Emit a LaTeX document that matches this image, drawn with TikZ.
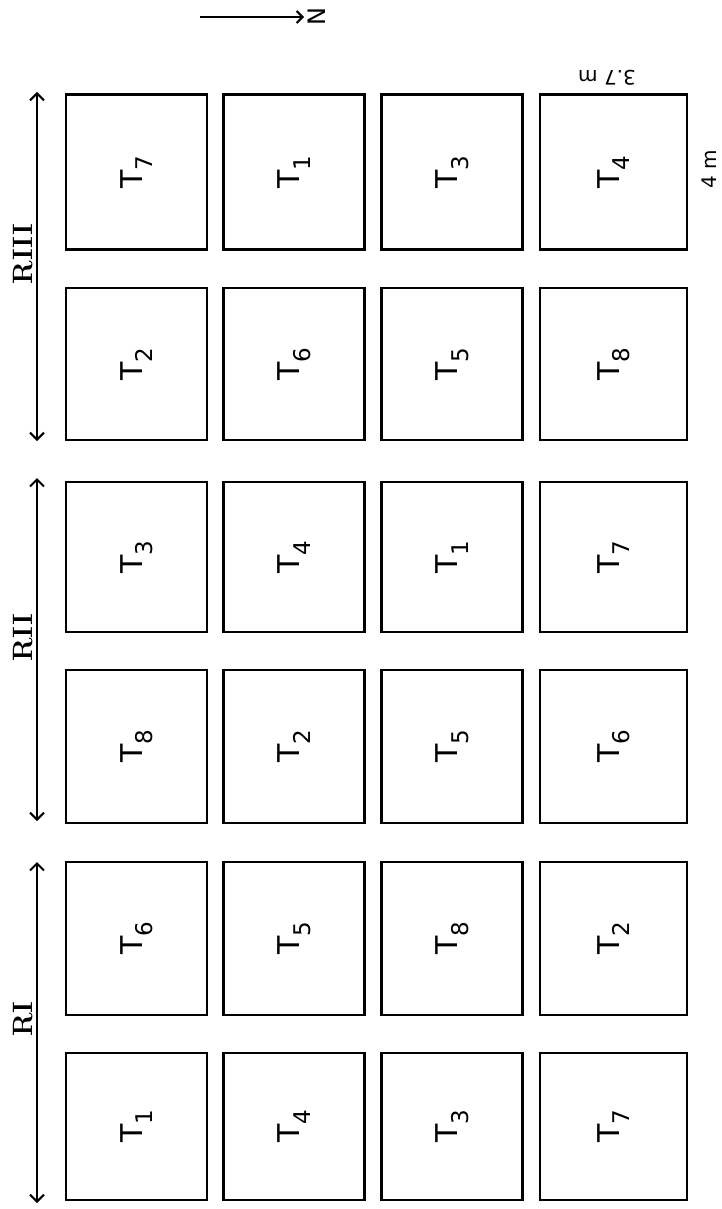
\documentclass[tikz,border=0pt]{standalone}
\usepackage{fontspec}
\setsansfont{DejaVu Sans}
\usetikzlibrary{arrows.meta}
\begin{document}
\begin{tikzpicture}[x=1pt,y=-1pt,
  plotbox/.style={draw, line width=2.4pt, minimum width=141pt, minimum height=155pt, inner sep=0pt,
    font=\sffamily\fontsize{30}{34}\selectfont},
  reparrow/.style={line width=2pt, {Straight Barb[length=7pt,width=14pt,line width=2pt]}-{Straight Barb[length=7pt,width=14pt,line width=2pt]}},
  replabel/.style={rotate=90, font=\rmfamily\bfseries\fontsize{28}{32}\selectfont, inner sep=0pt},
  dimlabel/.style={font=\sffamily\fontsize{20}{24}\selectfont, inner sep=0pt}]
\useasboundingbox (0,0) rectangle (722,1209);
% plots: columns x = 136.5, 294, 452, 613.5 ; rows y
\newcommand{\tr}[1]{\rotatebox{90}{T\raisebox{-0.35em}{\fontsize{23}{26}\selectfont #1}}}
\node[plotbox] (p11) at (136.5,172) {\tr{7}};
\node[plotbox] (p12) at (294,172)   {\tr{1}};
\node[plotbox] (p13) at (452,172)   {\tr{3}};
\node[plotbox, minimum width=147pt] (p14) at (613.5,172) {\tr{4}};
\node[plotbox, minimum height=152pt] (p21) at (136.5,364) {\tr{2}};
\node[plotbox, minimum height=152pt] (p22) at (294,364)   {\tr{6}};
\node[plotbox, minimum height=152pt] (p23) at (452,364)   {\tr{5}};
\node[plotbox, minimum height=152pt, minimum width=147pt] (p24) at (613.5,364) {\tr{8}};
\node[plotbox, minimum height=150pt] (p31) at (136.5,557) {\tr{3}};
\node[plotbox, minimum height=150pt] (p32) at (294,557)   {\tr{4}};
\node[plotbox, minimum height=150pt] (p33) at (452,557)   {\tr{1}};
\node[plotbox, minimum height=150pt, minimum width=147pt] (p34) at (613.5,557) {\tr{7}};
\node[plotbox, minimum height=153pt] (p41) at (136.5,746.5) {\tr{8}};
\node[plotbox, minimum height=153pt] (p42) at (294,746.5)   {\tr{2}};
\node[plotbox, minimum height=153pt] (p43) at (452,746.5)   {\tr{5}};
\node[plotbox, minimum height=153pt, minimum width=147pt] (p44) at (613.5,746.5) {\tr{6}};
\node[plotbox, minimum height=153pt] (p51) at (136.5,938.5) {\tr{6}};
\node[plotbox, minimum height=153pt] (p52) at (294,938.5)   {\tr{5}};
\node[plotbox, minimum height=153pt] (p53) at (452,938.5)   {\tr{8}};
\node[plotbox, minimum height=153pt, minimum width=147pt] (p54) at (613.5,938.5) {\tr{2}};
\node[plotbox, minimum height=147pt] (p61) at (136.5,1126.5) {\tr{1}};
\node[plotbox, minimum height=147pt] (p62) at (294,1126.5)   {\tr{4}};
\node[plotbox, minimum height=147pt] (p63) at (452,1126.5)   {\tr{3}};
\node[plotbox, minimum height=147pt, minimum width=147pt] (p64) at (613.5,1126.5) {\tr{7}};
% replication arrows
\coordinate (r3a) at (37,92);  \coordinate (r3b) at (37,441);
\coordinate (r2a) at (37,478); \coordinate (r2b) at (37,821);
\coordinate (r1a) at (37,862); \coordinate (r1b) at (37,1203);
\draw[reparrow] (r3a) -- (r3b);
\draw[reparrow] (r2a) -- (r2b);
\draw[reparrow] (r1a) -- (r1b);
\node[replabel] (l3) at (23,254) {RIII};
\node[replabel] (l2) at (23,638) {RII};
\node[replabel] (l1) at (23,1019) {RI};
% north arrow
\coordinate (na) at (200,17);
\node[dimlabel, rotate=90, font=\sffamily\fontsize{24}{28}\selectfont] (N) at (317,17) {N};
\draw[line width=2pt, -{Straight Barb[length=6pt,width=12pt,line width=2pt]}] (na) -- ([xshift=-4pt]N.north);
% dimensions
\node[dimlabel, rotate=180] (w) at (607,78) {3.7 m};
\node[dimlabel, rotate=90] (h) at (709,169) {4 m};
\end{tikzpicture}
\end{document}
